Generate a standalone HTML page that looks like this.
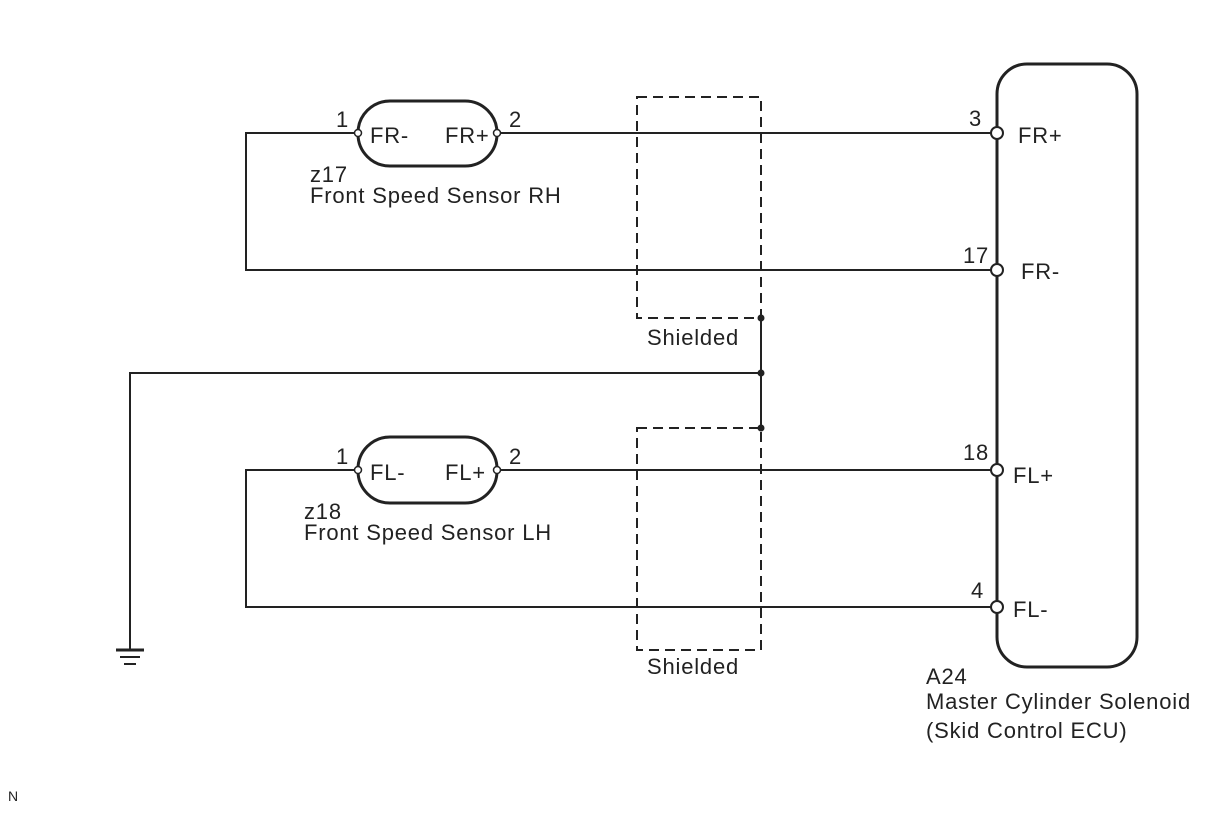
<!DOCTYPE html>
<html><head><meta charset="utf-8"><style>
html,body{margin:0;padding:0;background:#fff;}
svg{display:block;}
text{font-family:"Liberation Sans",Arial,sans-serif;font-size:22px;letter-spacing:0.8px;fill:#222;}
</style></head><body>
<svg width="1210" height="814" viewBox="0 0 1210 814" xmlns="http://www.w3.org/2000/svg">
<g stroke="#222" stroke-width="2" fill="none">
 <polyline points="358,133 246,133 246,270 991,270"/>
 <line x1="497" y1="133" x2="991" y2="133"/>
 <polyline points="358,470 246,470 246,607 991,607"/>
 <line x1="497" y1="470" x2="991" y2="470"/>
 <line x1="761" y1="318" x2="761" y2="428"/>
 <polyline points="761,373 130,373 130,650"/>
 <line x1="116" y1="650" x2="144" y2="650" stroke-width="3"/>
 <line x1="120" y1="657" x2="140" y2="657"/>
 <line x1="124" y1="664" x2="136" y2="664"/>
 <rect x="637" y="97" width="124" height="221" stroke-dasharray="10,6"/>
 <rect x="637" y="428" width="124" height="222" stroke-dasharray="10,6"/>
 <rect x="358" y="101" width="139" height="65" rx="32" ry="32" stroke-width="3"/>
 <rect x="358" y="437" width="139" height="66" rx="32" ry="32" stroke-width="3"/>
 <rect x="997" y="64" width="140" height="603" rx="30" ry="30" stroke-width="3"/>
</g>
<g fill="#fff" stroke="#222" stroke-width="1.5">
 <circle cx="358" cy="133" r="3.5"/><circle cx="497" cy="133" r="3.5"/>
 <circle cx="358" cy="470" r="3.5"/><circle cx="497" cy="470" r="3.5"/>
</g>
<g fill="#fff" stroke="#222" stroke-width="2">
 <circle cx="997" cy="133" r="6"/><circle cx="997" cy="270" r="6"/>
 <circle cx="997" cy="470" r="6"/><circle cx="997" cy="607" r="6"/>
</g>
<g fill="#222">
 <circle cx="761" cy="318" r="3.5"/><circle cx="761" cy="373" r="3.5"/><circle cx="761" cy="428" r="3.5"/>
</g>
<text x="336" y="127">1</text>
<text x="509" y="127">2</text>
<text x="370" y="143">FR-</text>
<text x="445" y="143">FR+</text>
<text x="310" y="182">z17</text>
<text x="310" y="203">Front Speed Sensor RH</text>
<text x="336" y="464">1</text>
<text x="509" y="464">2</text>
<text x="370" y="480">FL-</text>
<text x="445" y="480">FL+</text>
<text x="304" y="519">z18</text>
<text x="304" y="540">Front Speed Sensor LH</text>
<text x="647" y="345">Shielded</text>
<text x="647" y="674">Shielded</text>
<text x="969" y="126">3</text>
<text x="963" y="263">17</text>
<text x="963" y="460">18</text>
<text x="971" y="598">4</text>
<text x="1018" y="143">FR+</text>
<text x="1021" y="279">FR-</text>
<text x="1013" y="483">FL+</text>
<text x="1013" y="617">FL-</text>
<text x="926" y="684">A24</text>
<text x="926" y="709">Master Cylinder Solenoid</text>
<text x="926" y="738">(Skid Control ECU)</text>
<text x="8" y="801" style="font-size:14px;letter-spacing:0">N</text>
</svg>
</body></html>
